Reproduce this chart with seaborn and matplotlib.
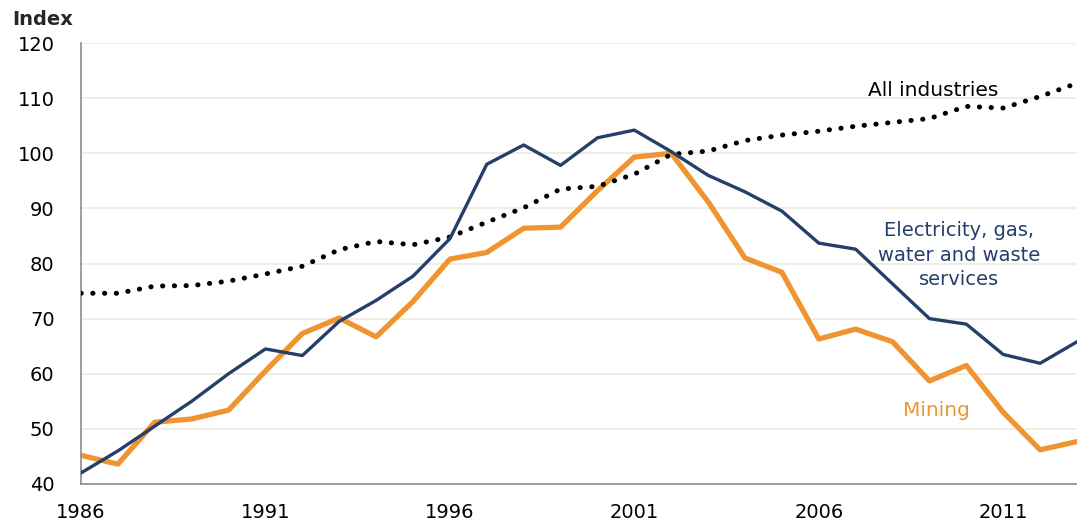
import seaborn as sns
import matplotlib.pyplot as plt
import pandas as pd
import numpy as np

years = list(range(1986, 2014))

electricity = [42.0, 46.0, 50.5, 55.0, 60.0, 64.5, 63.3, 69.5, 73.3, 77.7,
               84.5, 98.0, 101.5, 97.8, 102.8, 104.2, 100.3, 96.0, 93.0, 89.5,
               83.7, 82.6, 76.3, 70.0, 69.0, 63.5, 61.9, 65.8]
mining = [45.2, 43.6, 51.2, 51.8, 53.4, 60.5, 67.3, 70.1, 66.7, 73.1,
          80.8, 82.0, 86.4, 86.6, 93.2, 99.3, 100.0, 91.2, 81.0, 78.4,
          66.3, 68.1, 65.8, 58.7, 61.5, 53.0, 46.2, 47.7]
all_industries = [74.6, 74.6, 75.9, 76.0, 76.8, 78.1, 79.5, 82.5, 84.0, 83.4,
                  84.8, 87.5, 90.1, 93.5, 94.0, 96.2, 99.8, 100.4, 102.3, 103.3,
                  104.0, 104.9, 105.6, 106.3, 108.5, 108.2, 110.3, 112.7]

x_ticks = [1986, 1991, 1996, 2001, 2006, 2011]
y_ticks = [40, 50, 60, 70, 80, 90, 100, 110, 120]

navy = '#263F6A'
orange = '#EF9430'

df = pd.DataFrame({'year': years, 'elec': electricity, 'mining': mining, 'all': all_industries})

sns.set_style('white')
plt.rcParams['font.family'] = ['DejaVu Sans']

fig = plt.figure(figsize=(10.77, 5.22), dpi=100)
ax = fig.add_axes([0.0752, 0.0728, 0.9248, 0.8448])

for y in y_ticks[1:]:
    ax.axhline(y, color='#ECEBDD', lw=1.2, zorder=0)

sns.lineplot(data=df, x='year', y='all', ax=ax, color='black', lw=3.6,
             linestyle=(0, (0.05, 2.3)), dash_capstyle='round', zorder=3)
sns.lineplot(data=df, x='year', y='mining', ax=ax, color=orange, lw=3.8, zorder=2)
sns.lineplot(data=df, x='year', y='elec', ax=ax, color=navy, lw=2.4, zorder=4)

ax.set_xlim(1986, 2013)
ax.set_ylim(40, 120)
ax.set_xticks(x_ticks)
ax.set_yticks(y_ticks)
ax.set_xlabel('')
ax.set_ylabel('')
ax.tick_params(axis='both', which='both', direction='out', length=6, width=1,
               color='#8C8C8C', labelsize=14, labelcolor='black')
ax.tick_params(axis='x', pad=8)
ax.tick_params(axis='y', pad=13)

for side in ['top', 'right']:
    ax.spines[side].set_visible(False)
for side in ['left', 'bottom']:
    ax.spines[side].set_color('#8C8C8C')
    ax.spines[side].set_linewidth(1.2)

fig.text(0.011, 0.962, 'Index', fontsize=14, fontweight='bold', ha='left', va='center')
ax.text(2009.1, 111.3, 'All industries', fontsize=14.5, color='black', ha='center', va='center')
ax.text(2009.8, 81.5, 'Electricity, gas,\nwater and waste\nservices', fontsize=14,
        color=navy, ha='center', va='center', linespacing=1.35)
ax.text(2009.2, 53.4, 'Mining', fontsize=14.5, color=orange, ha='center', va='center')

fig.savefig('out.png', dpi=100)
